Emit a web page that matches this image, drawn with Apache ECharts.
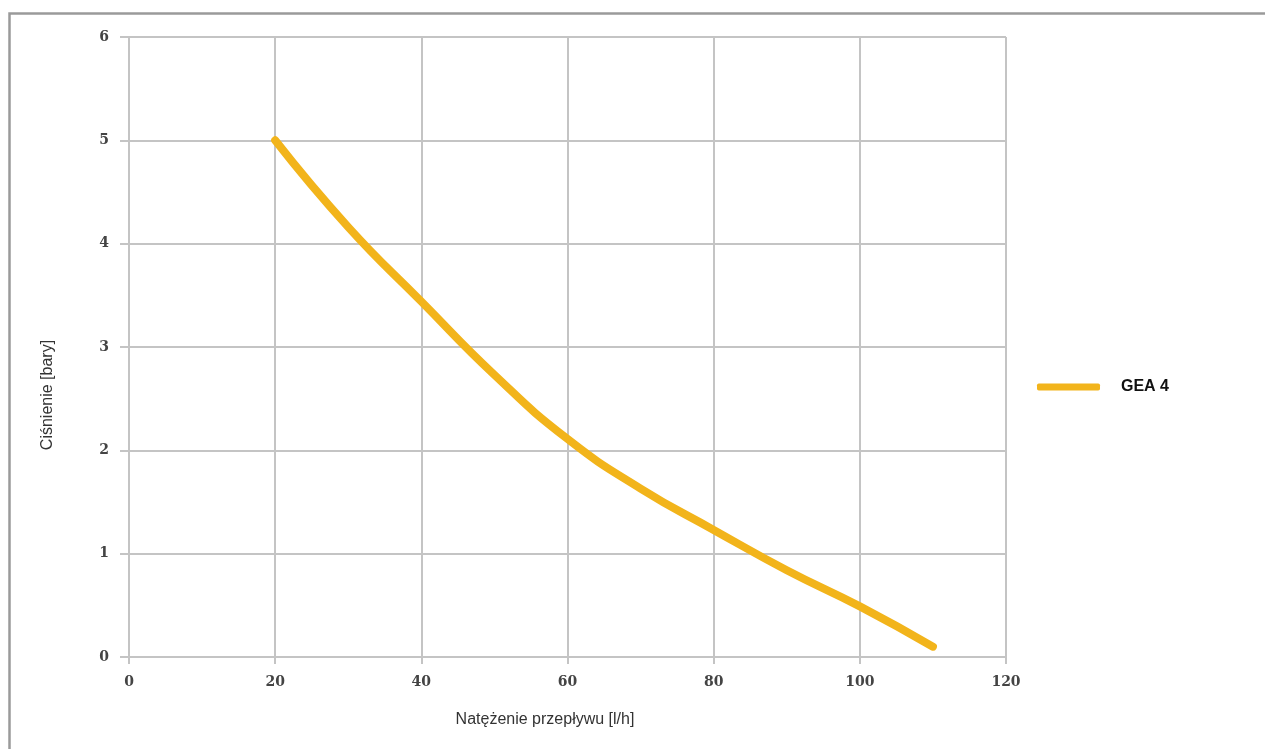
<!DOCTYPE html>
<html>
<head>
<meta charset="utf-8">
<script src="https://cdn.jsdelivr.net/npm/echarts@6/dist/echarts.min.js"></script>
<style>
html,body{margin:0;padding:0;background:#fff;}
#c{width:1265px;height:749px;}
</style>
</head>
<body>
<div id="c"></div>
<script>
const seriesName = 'GEA 4';
const flow = [20, 30, 40, 50, 60, 70, 80, 90, 100, 110];
const pressure = [5.0, 4.16, 3.44, 2.73, 2.11, 1.63, 1.23, 0.84, 0.49, 0.1];
const xTicks = [0, 20, 40, 60, 80, 100, 120];
const yTicks = [0, 1, 2, 3, 4, 5, 6];
const xName = 'Natężenie przepływu [l/h]';
const yName = 'Ciśnienie [bary]';

const chart = echarts.init(document.getElementById('c'));
const gridColor = '#c4c4c4';
const labelFont = "'DejaVu Serif', serif";
chart.setOption({
  animation: false,
  backgroundColor: '#fff',
  grid: {left: 129, right: 259, top: 37, bottom: 92},
  legend: {
    left: 1032, top: 374,
    icon: 'roundRect', itemWidth: 63, itemHeight: 7,
    data: [seriesName],
    textStyle: {fontFamily: 'Liberation Sans, Arial, sans-serif', fontSize: 16, fontWeight: 'bold', color: '#111', padding: [0,0,0,16]}
  },
  xAxis: {
    type: 'value', min: xTicks[0], max: xTicks[xTicks.length-1], interval: 20,
    axisLine: {show: true, lineStyle: {color: gridColor, width: 2}},
    axisTick: {show: true, length: 7, lineStyle: {color: gridColor, width: 2}},
    splitLine: {show: true, lineStyle: {color: gridColor, width: 2}},
    axisLabel: {margin: 18, fontSize: 14, color: '#444', fontFamily: labelFont, fontWeight: 'bold'}
  },
  yAxis: {
    type: 'value', min: yTicks[0], max: yTicks[yTicks.length-1], interval: 1,
    axisLine: {show: true, lineStyle: {color: gridColor, width: 2}},
    axisTick: {show: true, length: 9, lineStyle: {color: gridColor, width: 2}},
    splitLine: {show: true, lineStyle: {color: gridColor, width: 2}},
    axisLabel: {margin: 20, fontSize: 14, color: '#444', fontFamily: labelFont, fontWeight: 'bold'}
  },
  graphic: [
    {type: 'rect', silent: true, z: 100, shape: {x: 9.5, y: 13.5, width: 1400, height: 900},
     style: {fill: 'none', stroke: '#9a9a9a', lineWidth: 2.5}},
    {type: 'text', x: 545, y: 720, style: {text: xName, font: "16px 'Liberation Sans', Arial, sans-serif", fill: '#333', align: 'center', verticalAlign: 'middle'}},
    {type: 'text', x: 48, y: 395, rotation: Math.PI/2, style: {text: yName, font: "16px 'Liberation Sans', Arial, sans-serif", fill: '#333', align: 'center', verticalAlign: 'middle'}}
  ],
  series: [{
    name: seriesName, type: 'line', smooth: true, showSymbol: false,
    data: flow.map((x, i) => [x, pressure[i]]),
    lineStyle: {color: '#F2B41B', width: 8, cap: 'round'},
    itemStyle: {color: '#F2B41B'}
  }]
});
</script>
</body>
</html>
